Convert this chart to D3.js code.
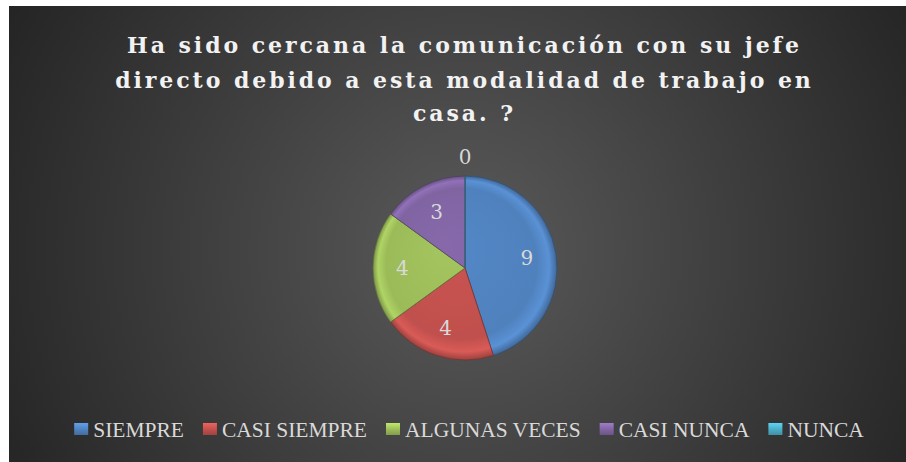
<!DOCTYPE html>
<html>
<head>
<meta charset="utf-8">
<script src="https://cdn.jsdelivr.net/npm/d3@7"></script>
<style>
  html, body { margin: 0; padding: 0; background: #ffffff; }
  svg { display: block; }
</style>
</head>
<body>
<div id="chart"></div>
<script>
(function() {
  var width = 906, height = 462;

  // data
  var categories = ["SIEMPRE", "CASI SIEMPRE", "ALGUNAS VECES", "CASI NUNCA", "NUNCA"];
  var values = [9, 4, 4, 3, 0];
  var colors = ["#4f81bd", "#c0504d", "#9bbb59", "#8064a2", "#4bacc6"];
  var titleLines = [
    "Ha sido cercana la comunicación con su jefe",
    "directo debido a esta modalidad de trabajo en",
    "casa. ?"
  ];

  var serif = "'DejaVu Serif', 'Liberation Serif', serif";
  var legendFont = "'Liberation Serif', 'DejaVu Serif', serif";

  var svg = d3.select("#chart").append("svg")
    .attr("width", width)
    .attr("height", height);

  var defs = svg.append("defs");

  // chart area background
  var bg = defs.append("radialGradient")
    .attr("id", "bg")
    .attr("gradientUnits", "userSpaceOnUse")
    .attr("cx", 465).attr("cy", 250).attr("r", 520);
  bg.append("stop").attr("offset", "0%").attr("stop-color", "#5a5a5a");
  bg.append("stop").attr("offset", "100%").attr("stop-color", "#242424");

  svg.append("rect")
    .attr("x", 9).attr("y", 6)
    .attr("width", width - 9).attr("height", height - 6)
    .attr("fill", "url(#bg)");

  // title, tracking taken from the width of the first line
  var titleY = [53, 88, 121];
  var title = svg.append("g")
    .attr("font-family", serif)
    .attr("font-weight", "bold")
    .attr("font-size", 22)
    .attr("fill", "#f2f2f2")
    .attr("text-anchor", "middle");
  var tl = title.selectAll("text").data(titleLines).enter().append("text")
    .attr("x", 463)
    .attr("y", function(d, i) { return titleY[i]; })
    .text(function(d) { return d; });
  var natural = tl.nodes()[0].getComputedTextLength();
  var spacing = (672 - natural) / (titleLines[0].length - 1);
  tl.attr("letter-spacing", spacing)
    .attr("x", 463 + spacing / 2);

  // pie
  var cx = 465, cy = 268, radius = 92;
  var pie = d3.pie().sort(null).value(function(d) { return d; });
  var arcs = pie(values);
  var arc = d3.arc().innerRadius(0).outerRadius(radius);
  var labelArc = d3.arc().innerRadius(radius * 0.68).outerRadius(radius * 0.68);

  colors.forEach(function(c, i) {
    var g = defs.append("radialGradient")
      .attr("id", "slice" + i)
      .attr("gradientUnits", "userSpaceOnUse")
      .attr("cx", 0).attr("cy", 0).attr("r", radius)
      .attr("fx", -20).attr("fy", -25);
    g.append("stop").attr("offset", "0%").attr("stop-color", d3.color(c).brighter(0.15));
    g.append("stop").attr("offset", "82%").attr("stop-color", c);
    g.append("stop").attr("offset", "93%").attr("stop-color", d3.color(c).brighter(0.35));
    g.append("stop").attr("offset", "100%").attr("stop-color", d3.color(c).darker(0.6));
  });

  var pieG = svg.append("g").attr("transform", "translate(" + cx + "," + cy + ")");

  pieG.selectAll("path.slice").data(arcs).enter().append("path")
    .attr("class", "slice")
    .attr("d", arc)
    .attr("fill", function(d, i) { return "url(#slice" + i + ")"; })
    .attr("stroke", function(d, i) { return d3.color(colors[i]).darker(1.4); })
    .attr("stroke-width", 1)
    .attr("stroke-opacity", 0.7);

  pieG.selectAll("text.lbl").data(arcs).enter().append("text")
    .attr("class", "lbl")
    .attr("transform", function(d) {
      if (d.value === 0) {
        var a = d.startAngle;
        var rr = radius + 19;
        return "translate(" + (Math.sin(a) * rr) + "," + (-Math.cos(a) * rr) + ")";
      }
      var c = labelArc.centroid(d);
      return "translate(" + c[0] + "," + c[1] + ")";
    })
    .attr("text-anchor", "middle")
    .attr("dy", "0.36em")
    .attr("font-family", serif)
    .attr("font-size", 20)
    .attr("fill", "#d9d9d9")
    .text(function(d) { return d.value; });

  // legend
  colors.forEach(function(c, i) {
    var g = defs.append("linearGradient")
      .attr("id", "mark" + i)
      .attr("x1", 0).attr("y1", 0).attr("x2", 0).attr("y2", 1);
    g.append("stop").attr("offset", "0%").attr("stop-color", d3.color(c).brighter(0.6));
    g.append("stop").attr("offset", "55%").attr("stop-color", c);
    g.append("stop").attr("offset", "100%").attr("stop-color", d3.color(c).darker(0.5));
  });

  var markW = 14, textGap = 5, itemGap = 19, legendW = 790;
  var legend = svg.append("g");
  var items = legend.selectAll("g.item").data(categories).enter().append("g")
    .attr("class", "item");
  items.append("rect")
    .attr("width", markW).attr("height", 12)
    .attr("y", -6)
    .attr("fill", function(d, i) { return "url(#mark" + i + ")"; });
  var ltext = items.append("text")
    .attr("x", markW + textGap)
    .attr("dy", "0.36em")
    .attr("font-family", legendFont)
    .attr("font-size", 20)
    .attr("fill", "#d9d9d9")
    .text(function(d) { return d; });

  // size the legend font so the row spans the same width as the reference
  var textSum = d3.sum(ltext.nodes(), function(n) { return n.getComputedTextLength(); });
  var fixed = categories.length * (markW + textGap) + (categories.length - 1) * itemGap;
  ltext.attr("font-size", 20 * (legendW - fixed) / textSum);

  var pos = 0, offsets = [];
  ltext.each(function() {
    offsets.push(pos);
    pos += markW + textGap + this.getComputedTextLength() + itemGap;
  });
  var startX = 469 - (pos - itemGap) / 2;
  items.attr("transform", function(d, i) {
    return "translate(" + (startX + offsets[i]) + ",429)";
  });
})();
</script>
</body>
</html>
